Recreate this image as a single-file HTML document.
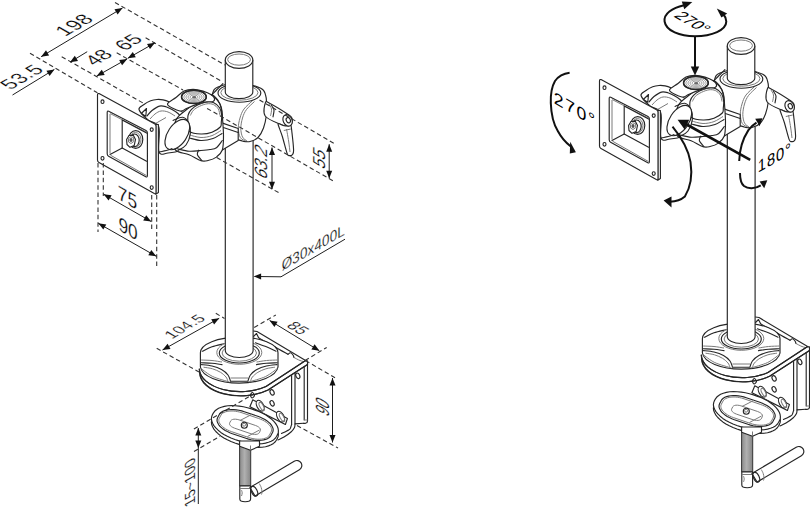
<!DOCTYPE html>
<html><head><meta charset="utf-8"><style>
html,body{margin:0;padding:0;background:#fff;}
svg{display:block;}
.o{fill:none;stroke:#262626;stroke-width:1.15;stroke-linejoin:round;stroke-linecap:round;}
.w{fill:#fff;stroke:#262626;stroke-width:1.15;stroke-linejoin:round;}
.w0{fill:#fff;stroke:none;}
.g{fill:none;stroke:#7a7a7a;stroke-width:1;}
.ds{fill:none;stroke:#333;stroke-width:1.1;stroke-dasharray:4.5 2.9;}
.dm{fill:none;stroke:#1e1e1e;stroke-width:1;}
.ar{fill:none;stroke:#111;stroke-width:2;}
.ar2{fill:none;stroke:#111;stroke-width:2.6;}
.t{font-family:"Liberation Sans",sans-serif;fill:#000;stroke:#fff;stroke-width:0.25px;}
.tb{stroke:none;}
</style></head><body>
<svg width="810" height="507" viewBox="0 0 810 507">
<defs><linearGradient id="thr" x1="0" x2="1" y1="0" y2="0"><stop offset="0" stop-color="#8a8a8a"/><stop offset="0.45" stop-color="#b0b0b0"/><stop offset="1" stop-color="#858585"/></linearGradient></defs>
<rect width="810" height="507" fill="#fff"/>
<g id="prod">
<path class="o" d="M291.6,375.5 L291.6,424.5"/>
<path class="o" d="M291.6,424.5 C291.3,425.2 290.8,427.9 290,429 C289.2,430.1 288.2,430.2 286.8,431 C285.4,431.8 282.4,433.1 281.5,433.5"/>
<path class="o" d="M295,372.8 L295,423.9 L303.5,423.3"/>
<path class="o" d="M295,423.9 C294.9,424.5 295.2,426.1 294.5,427.5 C293.8,428.9 292.8,430.4 291,432 C289.2,433.6 286.2,435.7 284,437 C281.8,438.3 279,439.5 278,440"/>
<path class="o" d="M304.2,366.5 L304.2,420"/>
<path class="o" d="M307.5,361 L307.5,421 Q307.5,423 305.5,423.3 L303.5,423.3"/>
<path class="g" d="M304.2,420 L307.5,420"/>
<path class="o" d="M253.5,331 L257,331.5 L305.6,360.6"/>
<path class="o" d="M253.5,336.5 L256.5,333.5 L258.5,337.5"/>
<path class="o" d="M258.5,337.8 C261.2,339.3 270.1,344.2 275,347 C279.9,349.8 285.8,353.1 288,354.3"/>
<path class="o" d="M288,354.3 C288.4,354.1 289.7,352.7 290.5,352.8 C291.3,352.9 292.4,354.2 293,355 C293.6,355.8 293.8,357.1 294,357.5"/>
<path class="g" d="M294,357.5 C295,358 298.1,359.8 300,360.5 C301.9,361.2 304.7,361.8 305.6,362"/>
<ellipse class="o" cx="297.8" cy="375.8" rx="1.9" ry="2.9" transform="rotate(-25 297.8 375.8)"/>
<ellipse class="o" cx="272.1" cy="392.4" rx="1.9" ry="2.9" transform="rotate(-25 272.1 392.4)"/>
<ellipse class="o" cx="272.1" cy="403.3" rx="1.9" ry="2.9" transform="rotate(-25 272.1 403.3)"/>
<path class="w" d="M199.3,369 A41 23.2 0 0 0 266,386.5 L305.6,360.6 L307.5,361 L307.5,364.5 L268,390 A41 23.2 0 0 1 199.6,372.5 Z"/>
<path class="o" d="M199.3,369 A41 23.2 0 0 0 266,386.5 L305.6,360.6"/>
<path class="o" d="M200,373 A41 23.2 0 0 0 268,390 L307.5,364.6"/>
<path class="w" d="M200.4,352.8 A38.8 15.7 0 0 1 278,352.8 L278,367 A38.9 17.3 0 0 1 200.4,367 Z"/>
<path class="o" d="M202.4,351.2 C204,350.5 208.5,348 212,346.8 C215.5,345.6 221.7,344.3 223.6,343.8"/>
<path class="o" d="M276,351.2 C274.4,350.5 269.8,348.2 266.4,346.8 C263,345.4 257.3,343.5 255.5,342.8"/>
<path class="g" d="M201.2,360 C203,360.1 208.5,360.2 212,360.5 C215.5,360.8 220.3,361.8 222,362"/>
<path class="o" d="M201.2,362.8 C203,362.9 208.5,362.9 212,363.2 C215.5,363.5 220.3,364.4 222,364.6"/>
<path class="g" d="M277.2,360 C275.4,360.1 269.9,360.2 266.5,360.5 C263.1,360.8 258.2,361.8 256.5,362"/>
<path class="o" d="M277.2,362.8 C275.4,362.9 269.9,362.9 266.5,363.2 C263.1,363.5 258.2,364.4 256.5,364.6"/>
<path class="o" d="M201.5,364.6 C203.2,364.8 208.7,365.2 212,366 C215.3,366.8 218.8,368 221.5,369.5 C224.2,371 226.5,373.1 228,375 C229.5,376.9 229.9,379.7 230.3,380.6"/>
<path class="g" d="M203.5,367.2 C205,367.5 209.7,367.9 212.5,368.8 C215.3,369.7 218.2,370.9 220.5,372.3 C222.8,373.7 224.8,375.6 226,377 C227.2,378.4 227.5,380.3 227.8,381"/>
<path class="o" d="M276.9,364.6 C275.1,364.8 269.7,365.2 266.4,366 C263.1,366.8 259.6,368 256.9,369.5 C254.2,371 251.9,373.1 250.4,375 C248.9,376.9 248.5,379.7 248.1,380.6"/>
<path class="g" d="M274.9,367.2 C273.4,367.5 268.7,367.9 265.9,368.8 C263.1,369.7 260.1,370.9 257.9,372.3 C255.6,373.7 253.6,375.6 252.4,377 C251.2,378.4 250.9,380.3 250.6,381"/>
<path class="g" d="M230.5,378 L248,378"/>
<path class="o" d="M230.5,381.2 L248,381.2"/>
<path class="g" d="M201,368.5 C202.9,369.8 207.9,374.2 212.7,376.5 C217.5,378.8 226.8,381.1 229.6,382"/>
<path class="g" d="M277.4,368.5 C275.4,369.8 270.5,374.2 265.7,376.5 C260.9,378.8 251.6,381.1 248.8,382"/>
<ellipse class="g" cx="239.3" cy="352.5" rx="22.5" ry="11.8"/>
<ellipse class="o" cx="239.3" cy="353" rx="20" ry="10"/>
<ellipse class="g" cx="239.3" cy="353" rx="17.2" ry="8.2"/>
<path class="w0" d="M225.3,92 L225.3,350.5 A13.9 7 0 0 0 253.1,350.5 L253.1,92 Z"/>
<path class="o" d="M225.3,92 L225.3,350.5 A13.9 7 0 0 0 253.1,350.5 L253.1,92"/>
<rect x="239.6" y="446" width="11.1" height="39.8" fill="url(#thr)" stroke="#333" stroke-width="1"/>
<path class="w" d="M239.8,485.8 L239.8,499 A5.1 2.6 0 0 0 250.6,499 L250.6,485.8 Z"/>
<path class="g" d="M239.8,488.5 L250.6,488.5"/>
<path class="g" d="M241.5,490 C241.6,490.5 242.2,492 242.2,493 C242.2,494 241.6,495.5 241.5,496"/>
<path class="w" d="M255.1,496.1 L299.4,469.8 A5 5 0 0 0 294.2,461.2 L249.9,487.5 Z"/>
<path class="g" d="M259.3,483.6 C259.6,484.2 260.8,486.2 261.2,487.5 C261.6,488.8 261.9,490.3 262,491.5 C262.1,492.7 261.6,494 261.5,494.5"/>
<ellipse class="o" cx="254.3" cy="491.3" rx="2.8" ry="5.2" transform="rotate(-25 254.3 491.3)"/>
<path class="w" d="M252.8,399.8 L287.4,418.6 L285.4,424.5 L249.9,406.7Z"/>
<ellipse class="w" cx="260.2" cy="405.7" rx="3.3" ry="5.8" transform="rotate(-28 260.2 405.7)"/>
<ellipse class="g" cx="261.7" cy="406.5" rx="1.8" ry="4.6" transform="rotate(-28 261.7 406.5)"/>
<ellipse class="w" cx="280.5" cy="416.6" rx="3.3" ry="5.8" transform="rotate(-28 280.5 416.6)"/>
<ellipse class="g" cx="282.0" cy="417.40000000000003" rx="1.8" ry="4.6" transform="rotate(-28 282.0 417.40000000000003)"/>
<path class="o" d="M250.5,395 C250.6,394.1 251.8,392.4 252.5,392.5 C253.2,392.6 254.6,394.6 254.5,395.5 C254.4,396.4 252.7,398.1 252,398 C251.3,397.9 250.4,395.9 250.5,395Z"/>
<path class="w" d="M277.4,438.4 L278.2,436.4 L278.4,434.3 L278.1,432.1 L277.3,429.8 L275.9,427.5 L274.1,425.1 L271.8,422.9 L269,420.7 L265.9,418.7 L262.5,416.8 L258.8,415.1 L254.9,413.6 L251.5,412.5 L247.5,411.2 L243.4,410.3 L239.3,409.6 L235.3,409.2 L231.4,409.2 L227.8,409.4 L224.4,409.9 L221.3,410.7 L218.6,411.8 L216.4,413.2 L214.6,414.8 L213.3,416.6 L212.4,418.2 L211.7,420.2 L211.4,422.3 L211.7,424.5 L212.6,426.8 L213.9,429.1 L215.8,431.5 L218.1,433.7 L220.8,435.9 L223.9,437.9 L227.3,439.8 L231,441.5 L234.9,443 L238.3,444.1 L242.3,445.4 L246.4,446.3 L250.5,447 L254.6,447.4 L258.4,447.4 L262.1,447.2 L265.5,446.7 L268.5,445.9 L271.2,444.8 L273.5,443.4 L275.3,441.8 L276.5,440Z"/>
<path class="w" d="M277.4,434.9 L278.2,432.9 L278.4,430.8 L278.1,428.5 L277.3,426.2 L275.9,423.9 L274.1,421.6 L271.8,419.3 L269,417.2 L265.9,415.1 L262.5,413.2 L258.8,411.5 L254.9,410.1 L251.5,408.9 L247.5,407.7 L243.4,406.7 L239.3,406.1 L235.3,405.7 L231.4,405.6 L227.8,405.8 L224.4,406.4 L221.3,407.2 L218.6,408.3 L216.4,409.7 L214.6,411.3 L213.3,413.1 L212.4,414.7 L211.7,416.6 L211.4,418.8 L211.7,421 L212.6,423.3 L213.9,425.6 L215.8,427.9 L218.1,430.2 L220.8,432.4 L223.9,434.4 L227.3,436.3 L231,438 L234.9,439.5 L238.3,440.6 L242.3,441.8 L246.4,442.8 L250.5,443.5 L254.6,443.8 L258.4,443.9 L262.1,443.7 L265.5,443.1 L268.5,442.3 L271.2,441.2 L273.5,439.9 L275.3,438.3 L276.5,436.5Z"/>
<path class="o" d="M272.5,432.5 L273,431.2 L273.2,429.8 L273,428.4 L272.4,426.9 L271.6,425.4 L270.4,423.8 L268.8,422.4 L267.1,420.9 L265,419.6 L262.8,418.4 L260.4,417.3 L257.8,416.3 L244.3,411.7 L241.7,410.9 L239,410.3 L236.3,409.9 L233.7,409.6 L231.2,409.6 L228.8,409.7 L226.6,410.1 L224.6,410.6 L222.8,411.3 L221.3,412.2 L220.2,413.2 L219.3,414.4 L217.7,417.5 L217.2,418.8 L217,420.2 L217.2,421.6 L217.8,423.1 L218.6,424.6 L219.8,426.2 L221.4,427.6 L223.1,429.1 L225.2,430.4 L227.4,431.6 L229.8,432.7 L232.4,433.7 L245.9,438.3 L248.5,439.1 L251.2,439.7 L253.9,440.1 L256.5,440.4 L259,440.4 L261.4,440.3 L263.6,439.9 L265.6,439.4 L267.4,438.7 L268.9,437.8 L270,436.8 L270.9,435.6Z"/>
<path class="g" d="M271,432.1 L271.5,431 L271.6,429.8 L271.4,428.6 L271,427.3 L270.2,426.1 L269.2,424.8 L267.9,423.6 L266.4,422.4 L264.7,421.2 L262.8,420.2 L260.8,419.3 L258.7,418.5 L242,412.8 L239.8,412.1 L237.5,411.6 L235.3,411.2 L233.1,411 L231,411 L229,411.1 L227.1,411.4 L225.4,411.9 L223.9,412.5 L222.7,413.2 L221.7,414.1 L221,415.1 L219.4,418.1 L218.9,419.2 L218.8,420.4 L219,421.6 L219.4,422.9 L220.2,424.1 L221.2,425.4 L222.5,426.6 L224,427.8 L225.7,429 L227.6,430 L229.6,430.9 L231.7,431.7 L248.4,437.4 L250.6,438.1 L252.9,438.6 L255.1,439 L257.3,439.2 L259.4,439.2 L261.4,439.1 L263.3,438.8 L265,438.3 L266.5,437.7 L267.7,437 L268.7,436.1 L269.4,435.1Z"/>
<path class="g" d="M260.3,430.7 L260.5,429.9 L260.3,428.9 L259.6,427.9 L258.6,427 L257.2,426.2 L255.6,425.5 L238.9,419.8 L237.2,419.4 L235.5,419.2 L233.9,419.2 L232.5,419.5 L231.5,420 L230.8,420.7 L229.7,422.9 L229.5,423.7 L229.7,424.7 L230.4,425.7 L231.4,426.6 L232.8,427.4 L234.4,428.1 L251.1,433.8 L252.8,434.2 L254.5,434.4 L256.1,434.4 L257.5,434.1 L258.5,433.6 L259.2,432.9Z"/>
<path class="g" d="M240,420.5 L252,414.3"/>
<path class="g" d="M247.5,436.5 L259.5,430"/>
<circle class="w" cx="244.3" cy="425.2" r="3"/>
<circle class="g" cx="244.1" cy="424.7" r="1.5"/>
<path class="w" d="M239.6,441 L239.6,446.3 L250.5,450.3 L259.5,446.2 L259.5,441Z"/>
<path class="g" d="M250.5,450.3 L250.5,445.5"/>
<path class="w" d="M212.4,94 C213.7,90.2 213.6,88.8 218,87 C222.4,85.2 231.9,82.8 239,83 C246.1,83.2 256.4,86.3 260.8,88.3 C265.2,90.3 264.6,92.6 265.6,95.2 C266.6,97.8 266.5,100.8 266.6,104 C266.8,107.2 267,110.5 266.5,114.5 C266,118.5 264.9,124.2 263.5,128 C262.1,131.8 260.2,135.2 258,137.5 C255.8,139.8 252.5,140.9 250,141.5 C247.5,142.1 245.3,141.6 243,141.2 C240.7,140.8 238.8,139.9 236,139 C233.2,138.1 229.7,137.8 226,136 C222.3,134.2 216.7,132.3 214,128 C211.3,123.7 210.3,115.7 210,110 C209.7,104.3 211.1,97.8 212.4,94Z"/>
<path class="g" d="M252.5,100.7 C251.1,102.1 246.1,106.1 244,109 C241.9,111.9 240.9,114.8 240,118 C239.1,121.2 238.2,125.1 238.3,128.3 C238.4,131.6 239.1,135.4 240.3,137.5 C241.5,139.6 244.7,140.4 245.6,141"/>
<path class="g" d="M254.5,101.5 C253.2,102.8 248.5,106.8 246.5,109.5 C244.5,112.2 243.4,114.9 242.5,118 C241.6,121.1 240.8,125.1 240.8,128.3 C240.8,131.5 241.5,134.9 242.5,137 C243.5,139.1 246.2,140.3 247,141"/>
<ellipse class="w" cx="239.4" cy="93" rx="21.4" ry="9.2"/>
<ellipse class="g" cx="239.4" cy="92.6" rx="18.6" ry="7.6"/>
<path class="w" d="M225.3,60 L225.3,92 A13.75 6.6 0 0 0 252.8,92 L252.8,60 Z"/>
<ellipse class="w" cx="239.05" cy="60" rx="13.75" ry="8.4"/>
<ellipse class="g" cx="239.05" cy="59.6" rx="11.4" ry="5.6"/>
<path class="w" d="M265.5,102.5 C266.3,100.4 266.1,101.5 270,103.5 C273.9,105.5 284.9,112.3 288.6,114.8 C292.3,117.3 291.5,117 292,118.5 C292.5,120 292.3,122.8 291.5,124 C290.7,125.2 288.8,125.9 287,126 C285.2,126.1 284.6,126.3 281,124.6 C277.4,122.9 267.8,119.7 265.2,116 C262.6,112.3 264.7,104.6 265.5,102.5Z"/>
<path class="g" d="M269,104 C269.4,104.8 271.2,107 271.5,109 C271.8,111 270.7,114.7 270.5,115.8"/>
<path class="o" d="M271.5,105.5 C271.9,106.2 273.8,108.1 274,110 C274.2,111.9 273.2,115.7 273,116.8"/>
<path class="w" d="M278.5,123.5 C279.2,123.4 281.3,125.1 283,125.5 C284.7,125.9 287.2,126.1 288.5,126 C289.8,125.9 290.2,123.8 290.8,125 C291.4,126.2 291.5,128.8 292,133 C292.5,137.2 293.5,146.4 293.6,150 C293.7,153.6 293.1,153.7 292.4,154.6 C291.7,155.5 290.4,155.8 289.5,155.6 C288.6,155.4 288.4,156.7 287.2,153.6 C286,150.5 283.9,141.6 282.5,137 C281.1,132.4 279.3,128.2 278.6,126 C277.9,123.8 277.8,123.6 278.5,123.5Z"/>
<path class="g" d="M286.5,129 C286.9,131 288,137.2 288.6,141 C289.2,144.8 289.8,150.2 290,152"/>
<path class="g" d="M283.8,130.5 L290.8,129"/>
<ellipse class="w" cx="287.6" cy="120.4" rx="4.4" ry="6" transform="rotate(-25 287.6 120.4)"/>
<ellipse class="o" cx="288.3" cy="120.2" rx="2" ry="2.8" transform="rotate(-25 288.3 120.2)"/>
<path class="w" d="M139,109.5 C138.3,106.9 142.1,106 144,104.5 C145.9,103 148.5,101.6 150.7,100.8 C152.9,100 154.9,99.7 157,99.5 C159.1,99.3 161,99.5 163.1,99.9 C165.2,100.3 167.4,101.1 169.5,102 C171.6,102.9 173.6,103.8 175.5,105.2 C177.4,106.6 179.4,108.6 181,110.5 C182.6,112.4 183.9,114 185.3,116.7 C186.7,119.5 188.9,122.6 189.5,127 C190.1,131.4 190.4,139.2 189,143 C187.6,146.8 184.5,148.3 181,150 C177.5,151.7 171.7,152.7 168,153 C164.3,153.3 160.5,156.3 159,152 C157.5,147.7 160.6,132.3 158.8,127 C157,121.7 151.3,122.9 148,120 C144.7,117.1 139.7,112.1 139,109.5Z"/>
<path class="o" d="M147.1,115.9 C147.9,115 149.9,112.1 152,110.5 C154.1,108.9 157.2,106.7 159.5,106.1 C161.8,105.5 163.9,106.2 166,106.8 C168.1,107.4 170,108.5 172,109.6 C174,110.7 176.2,112 178,113.5 C179.8,115 181.8,117.7 182.6,118.5"/>
<path class="g" d="M150,119 C150.8,118.2 153.2,115.3 155,114 C156.8,112.7 158.8,111.3 161,111 C163.2,110.7 165.7,111.2 168,112 C170.3,112.8 173.8,115.3 175,116"/>
<path class="o" d="M141.3,113.5 L146.5,108.5 L145.8,116.3Z"/>
<path class="g" d="M155.5,123.5 L166,117.5"/>
<path class="w" d="M216,121 L221.1,122.6 L238.2,128.5 L238.2,140.5 L222.3,150 L216,150Z"/>
<path class="o" d="M221.1,126.8 L238.2,132.5"/>
<path class="w" d="M176,120 C178.3,115 182,113.3 186,110 C190,106.7 195.8,102.6 200,100 C204.2,97.4 208,94.4 211,94.5 C214,94.6 216.2,98.2 218,100.5 C219.8,102.8 220.8,105.6 221.5,108.5 C222.2,111.4 222.2,113.5 222.5,118 C222.8,122.5 223.5,130.5 223.5,135.8 C223.5,141.1 223.5,146.4 222.3,150 C221.1,153.6 218.8,155.3 216.4,157.1 C214,158.8 210.6,159.9 208,160.5 C205.4,161.1 204.2,161.6 201,160.7 C197.8,159.8 193.3,156.5 189.1,154.8 C184.9,153.1 178.8,153 176,150.5 C173.2,148 172,145.1 172,140 C172,134.9 173.7,125 176,120Z"/>
<path class="o" d="M177.3,148.8 C179.3,149.2 185.3,150.9 189.1,151.2 C192.8,151.5 196.3,150.9 199.8,150.6 C203.3,150.3 207.2,150 210,149.5 C212.8,149 214.3,149.2 216.4,147.7 C218.5,146.2 221.3,141.7 222.3,140.5"/>
<path class="o" d="M198.6,150.2 C198.4,151 196.8,153.1 197.4,154.8 C198,156.6 201.2,159.7 202,160.7"/>
<path class="w" d="M188.1,115.1 C188.7,112.6 189.8,111 191.5,109.3 C193.2,107.6 195.5,106 198,104.8 C200.5,103.6 203.8,102.2 206.4,101.9 C209,101.6 211.6,101.7 213.8,102.7 C216,103.7 218.3,105.6 219.6,107.7 C220.9,109.8 221.4,112.7 221.7,115.1 C222,117.5 221.5,120 221.3,122 C221.1,124 221.9,125.3 220.3,127 C218.8,128.7 215.2,131 212,132.2 C208.8,133.4 204.8,134.1 201,134 C197.2,133.9 191.7,133.2 189.5,131.5 C187.3,129.8 188.2,126.7 188,124 C187.8,121.3 187.5,117.5 188.1,115.1Z"/>
<path class="g" d="M190.3,115.5 C190.8,114.6 192,111.7 193.5,110.2 C195,108.7 197.2,107.4 199.5,106.3 C201.8,105.2 204.7,104.1 207,103.8 C209.3,103.5 211.6,103.7 213.5,104.6 C215.4,105.5 217.2,107.2 218.3,109 C219.4,110.8 219.7,114.4 220,115.5"/>
<path class="g" d="M189.5,135 C191.4,135.4 197.2,137.4 201,137.5 C204.8,137.6 208.7,136.8 212,135.6 C215.3,134.4 219.5,131.3 221,130.5"/>
<path class="o" d="M189.5,138 C191.4,138.4 197.1,140.4 201,140.5 C204.9,140.6 209.5,139.7 213,138.5 C216.5,137.3 220.5,134.3 222,133.5"/>
<path class="w" d="M167.5,104.4 C166.8,102.2 173.2,99.7 176,97.5 C178.8,95.3 181.2,92.5 184,91.1 C186.8,89.7 189.9,89.3 193.1,89.3 C196.3,89.3 200,90.2 203,91.1 C206,92 209.4,93.6 211.3,94.8 C213.2,96 214.2,97.4 214.5,98.5 C214.8,99.6 214.3,100.9 213,101.5 C211.7,102.1 209.2,101.4 206.4,101.9 C203.6,102.4 199.3,103.5 196,104.6 C192.7,105.7 189.2,107.4 186.5,108.5 C183.8,109.6 183.1,111.7 179.9,111 C176.7,110.3 168.2,106.7 167.5,104.4Z"/>
<path class="o" d="M211.3,94.8 C212.1,95.4 214.6,97 216,98.5 C217.4,100 218.7,101.8 219.6,103.5 C220.5,105.2 220.9,106.6 221.3,108.5 C221.7,110.4 222,114 222.1,115.1"/>
<path class="o" d="M212.2,94.6 C213,93.8 215.2,91.3 217,89.5 C218.8,87.7 221.9,84.7 222.9,83.7"/>
<ellipse class="w" cx="193.9" cy="96.9" rx="12.4" ry="6.6"/>
<ellipse cx="194" cy="97.1" rx="10.2" ry="5.4" fill="none" stroke="#8c8c8c" stroke-width="0.8"/>
<ellipse cx="194" cy="97.1" rx="8.1" ry="4.3" fill="none" stroke="#8c8c8c" stroke-width="0.8"/>
<ellipse cx="194" cy="97.1" rx="6.0" ry="3.2" fill="none" stroke="#8c8c8c" stroke-width="0.8"/>
<ellipse cx="194" cy="97.1" rx="4.0" ry="2.1" fill="none" stroke="#8c8c8c" stroke-width="0.8"/>
<ellipse cx="194.2" cy="97.3" rx="2.2" ry="1.3" fill="#6a6a6a"/>
<ellipse class="o" cx="193.9" cy="96.9" rx="12.4" ry="6.6" style="stroke-width:1.4"/>
<path class="o" d="M173.1,120.5 C174.7,120 180,116.8 182.7,117.3 C185.4,117.8 187.8,120.9 189.1,123.7 C190.4,126.5 190.8,130.4 190.3,134 C189.8,137.6 188.1,142.2 186,145 C183.9,147.8 179.3,149.6 178,150.5"/>
<ellipse class="w" cx="177.3" cy="134.6" rx="9.6" ry="17" transform="rotate(33.7 177.3 134.6)"/>
<path class="o" d="M159,152 C160.5,151.7 165.8,150.6 168,150 C170.2,149.4 171.3,148.8 172,148.5"/>
<path class="w" d="M155.8,124.3 L158.4,124.6 L158.4,192.6 L155.8,194.2Z"/>
<path class="w" d="M99,93.6 L154.5,123.7 Q156,124.5 156,126 L156,192.5 Q156,194.4 154.3,193.6 L99,162.6 Q97.5,161.8 97.5,160 L97.5,95.3 Q97.5,93 99,93.6 Z"/>
<ellipse class="o" cx="102.5" cy="101.7" rx="1.5" ry="1.8"/>
<ellipse class="o" cx="151.7" cy="129.6" rx="1.5" ry="1.8"/>
<ellipse class="o" cx="102.5" cy="158.3" rx="1.5" ry="1.8"/>
<ellipse class="o" cx="151.7" cy="187.5" rx="1.5" ry="1.8"/>
<path class="o" d="M108.7,111.2 L146,130.5 Q147.4,131.3 147.4,133 L147.4,175.5 Q147.4,177.6 145.8,176.8 L108.6,156.3 Q107.2,155.5 107.2,153.8 L107.2,112.4 Q107.2,110.4 108.7,111.2 Z"/>
<path class="g" d="M110,114 L110,153.5"/>
<path class="g" d="M110.3,113.6 L146,132"/>
<path class="o" d="M122.2,148.1 L122.2,120 L146.6,133.1"/>
<path class="o" d="M110,154.6 L122.2,148.1 L146.6,161.2"/>
<path class="g" d="M110.5,155.2 L146.6,175.6"/>
<ellipse class="w" cx="135.7" cy="139.5" rx="7.1" ry="8.9"/>
<ellipse class="g" cx="135.4" cy="139.8" rx="5.6" ry="7.3"/>
<ellipse class="o" cx="134.6" cy="140.3" rx="4.6" ry="6.3"/>
<path class="w" d="M126.6,139.5 L129,135.5 L133.3,135.2 L135.5,139.5 L134.2,145.5 L130,147.3 L127,144.5 Z"/>
<path class="g" d="M128.5,138.5 L130.5,136.8 L133.5,137.5 L133.8,141.5 L131,143.5 L128.5,142 Z"/>
<ellipse cx="131" cy="140" rx="1.6" ry="1.9" fill="#555"/>
</g>
<use href="#prod" transform="translate(502,-14)"/>
<path class="ds" d="M30,53.3 L97.4,92.8"/>
<path class="ds" d="M61.7,56.7 L143,103"/>
<path class="ds" d="M116.7,52.8 L183,90"/>
<path class="ds" d="M145.6,37.8 L220.8,80.8"/>
<path class="ds" d="M115,2.5 L225,65"/>
<path class="dm" d="M41.1,56.7 L122.5,8"/><path fill="#111" d="M122.5,8 L117.6,14.4 L114.5,9.3 Z"/><path fill="#111" d="M41.1,56.7 L46,50.3 L49.1,55.4 Z"/>
<path class="dm" d="M12.5,95 L54.4,69.4"/>
<path fill="#111" d="M54.4,69.4 L49.6,75.9 L46.4,70.8 Z"/>
<path class="dm" d="M87.2,51.7 L70,62.2"/>
<path fill="#111" d="M70,62.2 L74.8,55.7 L78,60.9 Z"/>
<path class="dm" d="M96.7,76.1 L127.2,58.9"/><path fill="#111" d="M127.2,58.9 L122.1,65.2 L119.2,60 Z"/><path fill="#111" d="M96.7,76.1 L101.8,69.8 L104.7,75 Z"/>
<path class="dm" d="M127.8,58.3 L155,42.8"/><path fill="#111" d="M155,42.8 L150,49.1 L147,43.9 Z"/><path fill="#111" d="M127.8,58.3 L132.8,52 L135.8,57.2 Z"/>
<path class="ds" d="M98,163 L98,232"/>
<path class="ds" d="M103.3,163 L103.3,196"/>
<path class="ds" d="M151.7,195 L151.7,230"/>
<path class="ds" d="M156.7,195 L156.7,266"/>
<path class="dm" d="M103.6,194.2 L151.2,221.5"/><path fill="#111" d="M151.2,221.5 L143.2,220.4 L146.2,215.2 Z"/><path fill="#111" d="M103.6,194.2 L111.6,195.3 L108.6,200.5 Z"/>
<path class="dm" d="M98.3,223.3 L156.3,256.3"/><path fill="#111" d="M156.3,256.3 L148.3,255.2 L151.3,250 Z"/><path fill="#111" d="M98.3,223.3 L106.3,224.4 L103.3,229.6 Z"/>
<path class="ds" d="M259.5,100 L335,144"/>
<path class="ds" d="M207.1,108.4 L335,182"/>
<path class="ds" d="M216.7,157.5 L281,194"/>
<path class="dm" d="M329.2,178.3 L329.2,144.2"/><path fill="#111" d="M329.2,144.2 L332.2,151.7 L326.2,151.7 Z"/><path fill="#111" d="M329.2,178.3 L326.2,170.8 L332.2,170.8 Z"/>
<path class="dm" d="M272,189.2 L272,147.5"/><path fill="#111" d="M272,147.5 L275,155 L269,155 Z"/><path fill="#111" d="M272,189.2 L269,181.7 L275,181.7 Z"/>
<path class="dm" d="M281,276.8 L345,239.2"/>
<path class="dm" d="M256,276.5 L281,276.8"/>
<path fill="#111" d="M253.6,276.4 L261.1,273.5 L261.1,279.5 Z"/>
<path class="ds" d="M156.7,348.3 L199,372"/>
<path class="ds" d="M215.8,313.3 L224.5,318.5"/>
<path class="dm" d="M162.5,350 L219.2,318.3"/><path fill="#111" d="M219.2,318.3 L214.1,324.6 L211.2,319.3 Z"/><path fill="#111" d="M162.5,350 L167.6,343.7 L170.5,349 Z"/>
<path class="ds" d="M254.2,327.5 L275.8,315"/>
<path class="ds" d="M305,360.5 L326.7,347.5"/>
<path class="dm" d="M269.6,320.4 L319.4,350.8"/><path fill="#111" d="M319.4,350.8 L311.4,349.5 L314.6,344.3 Z"/><path fill="#111" d="M269.6,320.4 L277.6,321.7 L274.4,326.9 Z"/>
<path class="ds" d="M305.6,360.6 L337,379"/>
<path class="ds" d="M297,425.5 L338,448"/>
<path class="dm" d="M332.5,442.5 L332.5,378"/><path fill="#111" d="M332.5,378 L335.5,385.5 L329.5,385.5 Z"/><path fill="#111" d="M332.5,442.5 L329.5,435 L335.5,435 Z"/>
<path class="ds" d="M193.9,429 L253,394.4"/>
<path class="ds" d="M194,451.5 L220,436.3"/>
<path class="dm" d="M198.3,448 L198.3,428"/><path fill="#111" d="M198.3,428 L201.3,435.5 L195.3,435.5 Z"/><path fill="#111" d="M198.3,448 L195.3,440.5 L201.3,440.5 Z"/>
<path class="dm" d="M198.3,448 L198.3,504"/>
<text class="t" transform="matrix(0.866,-0.5,0.866,0.5,74.1,24.8)" font-size="20" text-anchor="middle" dominant-baseline="central" letter-spacing="0.3">198</text>
<text class="t" transform="matrix(0.866,-0.5,0.866,0.5,21.6,76.7)" font-size="20" text-anchor="middle" dominant-baseline="central" letter-spacing="0.3">53.5</text>
<text class="t" transform="matrix(0.866,-0.5,0.866,0.5,98.2,57.2)" font-size="20" text-anchor="middle" dominant-baseline="central">48</text>
<text class="t" transform="matrix(0.866,-0.5,0.866,0.5,128.3,42.1)" font-size="20" text-anchor="middle" dominant-baseline="central">65</text>
<text class="t" transform="matrix(0.866,0.5,0,1,127.4,197.4)" font-size="20" text-anchor="middle" dominant-baseline="central">75</text>
<text class="t" transform="matrix(0.866,0.5,0,1,128,228.5)" font-size="20" text-anchor="middle" dominant-baseline="central">90</text>
<text class="t" transform="matrix(0.0,-0.8,0.866,0.5,319.1,158)" font-size="20" text-anchor="middle" dominant-baseline="central">55</text>
<text class="t" transform="matrix(0.0,-0.8,0.892,0.515,260.8,161.4)" font-size="20" text-anchor="middle" dominant-baseline="central">63.2</text>
<text class="t" transform="matrix(0.866,-0.5,0,1,313.3,247.3)" font-size="15.5" text-anchor="middle" dominant-baseline="central" letter-spacing="0.2">&#216;30x400L</text>
<text class="t" transform="matrix(0.866,-0.5,0.866,0.5,184.6,326.4)" font-size="15.5" text-anchor="middle" dominant-baseline="central" letter-spacing="0.3">104.5</text>
<text class="t" transform="matrix(0.866,0.5,-0.866,0.5,297.9,327.9)" font-size="16" text-anchor="middle" dominant-baseline="central">85</text>
<text class="t" transform="matrix(0.0,-0.65,0.9526,0.55,322.6,406.7)" font-size="20" text-anchor="middle" dominant-baseline="central">90</text>
<text class="t" transform="matrix(0.0,-0.82,0.866,-0.5,189.3,482.6)" font-size="17" text-anchor="middle" dominant-baseline="central">15~100</text>
<path class="ar" d="M684,5.2 C672,8 663.5,14 664.6,21.5 C666,31 680,36.2 695,36.2 C712,36.2 726.3,30 726.3,21.5 C726.3,18.5 725.3,16.5 723.5,14.5"/>
<path fill="#111" d="M692.3,2 L681.8,1.6 L684.3,9.3Z"/>
<path fill="#111" d="M716.8,8.5 L727.2,13.6 L721.4,17.6Z"/>
<path class="ar" d="M695,36.5 L695,67"/>
<path fill="#111" d="M695,75.5 L690.8,66.5 L699.2,66.5Z"/>
<path class="ar" d="M569.6,72.8 C564,73.5 559,75.5 555,81 C551,88 550.5,95 550.8,103 C551.2,115 553.5,124 557.8,131 C561,137 565,142 570.8,146.5"/>
<path fill="#111" d="M570.2,141.8 L575.9,152.3 L569.8,153.5Z"/>
<path class="ar2" d="M750.2,159.8 L684,123"/>
<path fill="#111" d="M677.6,119.8 L689.2,119.8 L684.6,129.6Z"/>
<path class="ar" d="M672.5,126.7 C681,137 688,148 690.5,162 C692.5,175 690,188 684.9,196.6 C681,200 676,201.6 670,201.8"/>
<path fill="#111" d="M663.6,200.4 L671.5,196.4 L671.5,207.4Z"/>
<path class="ar" d="M739.2,161 C739.5,150 742,140 748.4,130.1 C751,126.5 753.5,124.5 756.5,122.6"/>
<path fill="#111" d="M762.4,118.3 L755.2,118.8 L759.6,126.2Z"/>
<path class="ar" d="M740,172.9 C740,178 740.5,183 744,186 C748,189 755,189 760.8,185.3"/>
<path fill="#111" d="M767.3,180.2 L759.6,181.4 L764.2,188.2Z"/>
<text class="t tb" transform="matrix(0.866,0.5,-0.866,0.5,693,21.8)" font-size="16.5" text-anchor="middle" dominant-baseline="central">270&#176;</text>
<text class="t tb" transform="matrix(1.0392,0.6,0,1,575.2,109.5)" font-size="17" text-anchor="middle" dominant-baseline="central" letter-spacing="1.5">270&#176;</text>
<text class="t tb" transform="matrix(0.866,-0.5,0,1,774.8,157.7)" font-size="17" text-anchor="middle" dominant-baseline="central" letter-spacing="1">180&#176;</text>
</svg>
</body></html>
